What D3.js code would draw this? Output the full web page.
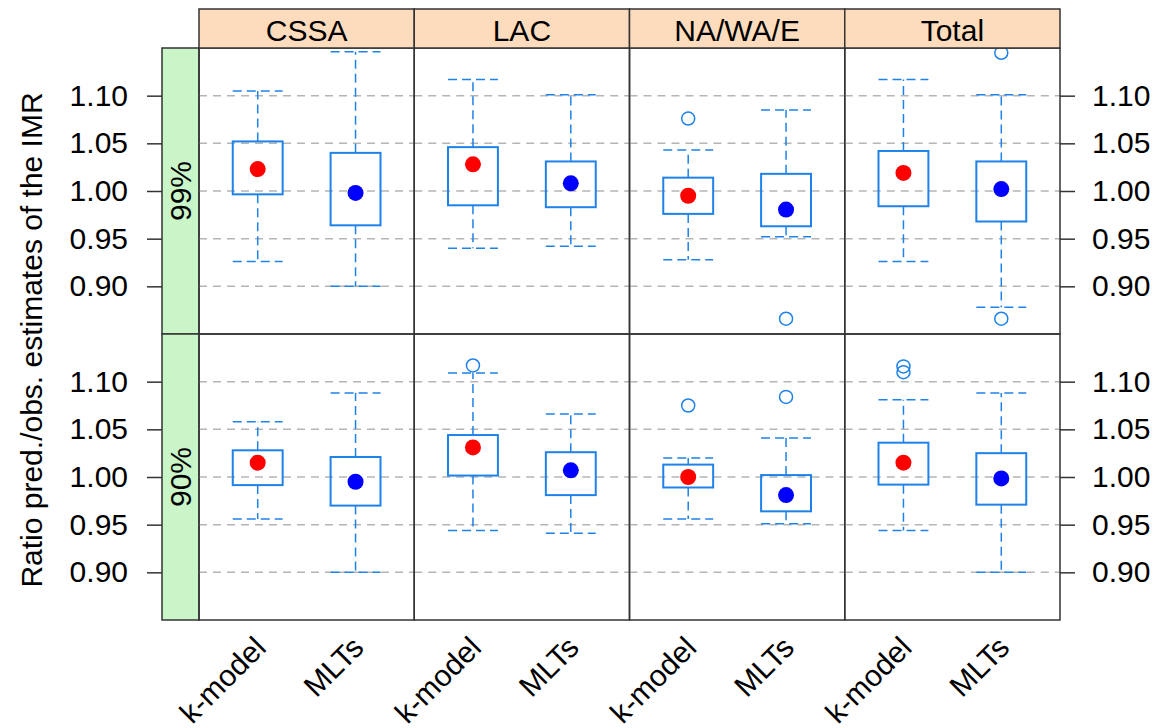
<!DOCTYPE html>
<html>
<head>
<meta charset="utf-8">
<script src="https://cdn.jsdelivr.net/npm/d3@7"></script>
<style>
  body { margin: 0; background: #fff; }
  text { font-family: "Liberation Sans", Arial, sans-serif; fill: #000; }
</style>
</head>
<body>
<div id="container"></div>
<script>
// data
const regions = ["CSSA", "LAC", "NA/WA/E", "Total"];
const methods = ["k-model", "MLTs"];
const levels = ["99%", "90%"];
const yTicks = [0.9, 0.95, 1.0, 1.05, 1.1];

// per level: [CSSA k, CSSA M, LAC k, LAC M, NA k, NA M, Total k, Total M]
const whiskLow99 = [0.926, 0.9, 0.94, 0.942, 0.928, 0.952, 0.926, 0.878];
const q1_99 = [0.9965, 0.964, 0.985, 0.983, 0.976, 0.963, 0.984, 0.968];
const mid99 = [1.023, 0.998, 1.028, 1.008, 0.995, 0.9805, 1.019, 1.002];
const q3_99 = [1.052, 1.04, 1.046, 1.031, 1.014, 1.018, 1.042, 1.031];
const whiskHigh99 = [1.105, 1.146, 1.117, 1.101, 1.043, 1.085, 1.117, 1.101];
const outliers99 = [[], [], [], [], [1.076], [0.866], [], [1.145, 0.866]];

const whiskLow90 = [0.956, 0.9, 0.944, 0.941, 0.956, 0.951, 0.944, 0.9];
const q1_90 = [0.9915, 0.970, 1.0015, 0.981, 0.989, 0.964, 0.992, 0.971];
const mid90 = [1.015, 0.995, 1.031, 1.007, 1.0, 0.981, 1.015, 0.9985];
const q3_90 = [1.028, 1.021, 1.044, 1.026, 1.013, 1.002, 1.036, 1.025];
const whiskHigh90 = [1.058, 1.088, 1.109, 1.066, 1.02, 1.041, 1.081, 1.088];
const outliers90 = [[], [], [1.117], [], [1.075], [1.084], [1.116, 1.11], []];

const stats = {
  "99%": { lo: whiskLow99, q1: q1_99, mid: mid99, q3: q3_99, hi: whiskHigh99, out: outliers99 },
  "90%": { lo: whiskLow90, q1: q1_90, mid: mid90, q3: q3_90, hi: whiskHigh90, out: outliers90 }
};

const dotColor = { "k-model": "red", "MLTs": "blue" };
const boxColor = "#1f82e8";

const width = 1168, height = 728;
const panelLeft = 199, panelW = 215.25;
const rowTop = [48, 334], rowH = 286;
const stripTop = 9, stripX = 162;

const svg = d3.select("#container").append("svg")
  .attr("width", width).attr("height", height);

const y0 = d3.scaleLinear().domain([0.85, 1.15]);
const fmt = d3.format(".2f");

levels.forEach((lev, r) => {
  const y = y0.copy().range([rowTop[r] + rowH, rowTop[r]]);
  const s = stats[lev];

  // left axis (outside green strip) and right axis
  const left = svg.append("g")
    .attr("transform", `translate(${stripX},0)`)
    .call(d3.axisLeft(y).tickValues(yTicks).tickSize(15).tickPadding(19).tickFormat(fmt));
  const right = svg.append("g")
    .attr("transform", `translate(${panelLeft + 4 * panelW},0)`)
    .call(d3.axisRight(y).tickValues(yTicks).tickSize(15).tickPadding(17).tickFormat(fmt));
  [left, right].forEach((a) => {
    a.select(".domain").remove();
    a.selectAll("line").attr("stroke", "#333").attr("stroke-width", 1.5);
    a.selectAll("text").style("font-size", "30px").attr("fill", "#111");
  });

  // green level strip
  svg.append("rect")
    .attr("x", stripX).attr("y", rowTop[r])
    .attr("width", panelLeft - stripX).attr("height", rowH)
    .attr("fill", "#c9f5c9").attr("stroke", "#333").attr("stroke-width", 1.5);
  svg.append("text")
    .attr("transform", `translate(${(stripX + panelLeft) / 2},${rowTop[r] + rowH / 2}) rotate(-90)`)
    .attr("text-anchor", "middle").attr("dominant-baseline", "central")
    .style("font-size", "30px").text(lev);

  regions.forEach((reg, c) => {
    const px = panelLeft + c * panelW;
    const x = d3.scaleLinear().domain([0.4, 2.6]).range([px, px + panelW]);
    const g = svg.append("g");

    // grid
    g.selectAll(".grid").data(yTicks).enter().append("line")
      .attr("x1", px).attr("x2", px + panelW)
      .attr("y1", (d) => y(d)).attr("y2", (d) => y(d))
      .attr("stroke", "#b5b5b5").attr("stroke-width", 1.5).attr("stroke-dasharray", "8,6");

    methods.forEach((m, k) => {
      const i = c * 2 + k;
      const cx = x(k + 1);
      const hw = (x(1.255) - x(1)) ;
      const dash = (sel) => sel.attr("stroke", boxColor).attr("stroke-width", 1.5).attr("stroke-dasharray", "9,5");
      // whiskers and caps
      g.append("line").attr("x1", cx).attr("x2", cx).attr("y1", y(s.q3[i])).attr("y2", y(s.hi[i])).call(dash);
      g.append("line").attr("x1", cx).attr("x2", cx).attr("y1", y(s.q1[i])).attr("y2", y(s.lo[i])).call(dash);
      g.append("line").attr("x1", cx - hw).attr("x2", cx + hw).attr("y1", y(s.hi[i])).attr("y2", y(s.hi[i])).call(dash);
      g.append("line").attr("x1", cx - hw).attr("x2", cx + hw).attr("y1", y(s.lo[i])).attr("y2", y(s.lo[i])).call(dash);
      // box
      g.append("rect")
        .attr("x", cx - hw).attr("width", 2 * hw)
        .attr("y", y(s.q3[i])).attr("height", y(s.q1[i]) - y(s.q3[i]))
        .attr("fill", "none").attr("stroke", boxColor).attr("stroke-width", 2);
      // centre dot
      g.append("circle").attr("cx", cx).attr("cy", y(s.mid[i])).attr("r", 8)
        .attr("fill", dotColor[m]);
      // outliers
      g.selectAll(null).data(s.out[i]).enter().append("circle")
        .attr("cx", cx).attr("cy", (d) => y(d)).attr("r", 6.5)
        .attr("fill", "none").attr("stroke", boxColor).attr("stroke-width", 1.5);
    });

    // panel border
    svg.append("rect")
      .attr("x", px).attr("y", rowTop[r]).attr("width", panelW).attr("height", rowH)
      .attr("fill", "none").attr("stroke", "#333").attr("stroke-width", 1.5);

    if (r === 0) {
      svg.append("rect")
        .attr("x", px).attr("y", stripTop).attr("width", panelW).attr("height", rowTop[0] - stripTop)
        .attr("fill", "#fddcbd").attr("stroke", "#333").attr("stroke-width", 1.5);
      svg.append("text")
        .attr("x", px + panelW / 2).attr("y", 41)
        .attr("text-anchor", "middle").style("font-size", "30px").text(reg);
    }
    if (r === 1) {
      const xa = svg.append("g")
        .attr("transform", `translate(0,${rowTop[1] + rowH})`)
        .call(d3.axisBottom(x).tickValues([1, 2]).tickSize(0).tickFormat((d) => methods[d - 1]));
      xa.select(".domain").remove();
      xa.selectAll("text")
        .style("font-size", "30px").attr("fill", "#111")
        .attr("text-anchor", "end").attr("dominant-baseline", "central")
        .attr("y", 0).attr("dy", null)
        .attr("transform", "translate(2,22) rotate(-45)");
    }
  });
});

// y axis title
svg.append("text")
  .attr("transform", `translate(42,${(rowTop[0] + rowTop[1] + rowH) / 2 + 6}) rotate(-90)`)
  .attr("text-anchor", "middle").style("font-size", "30px").attr("fill", "#111")
  .text("Ratio pred./obs. estimates of the IMR");
</script>
</body>
</html>
